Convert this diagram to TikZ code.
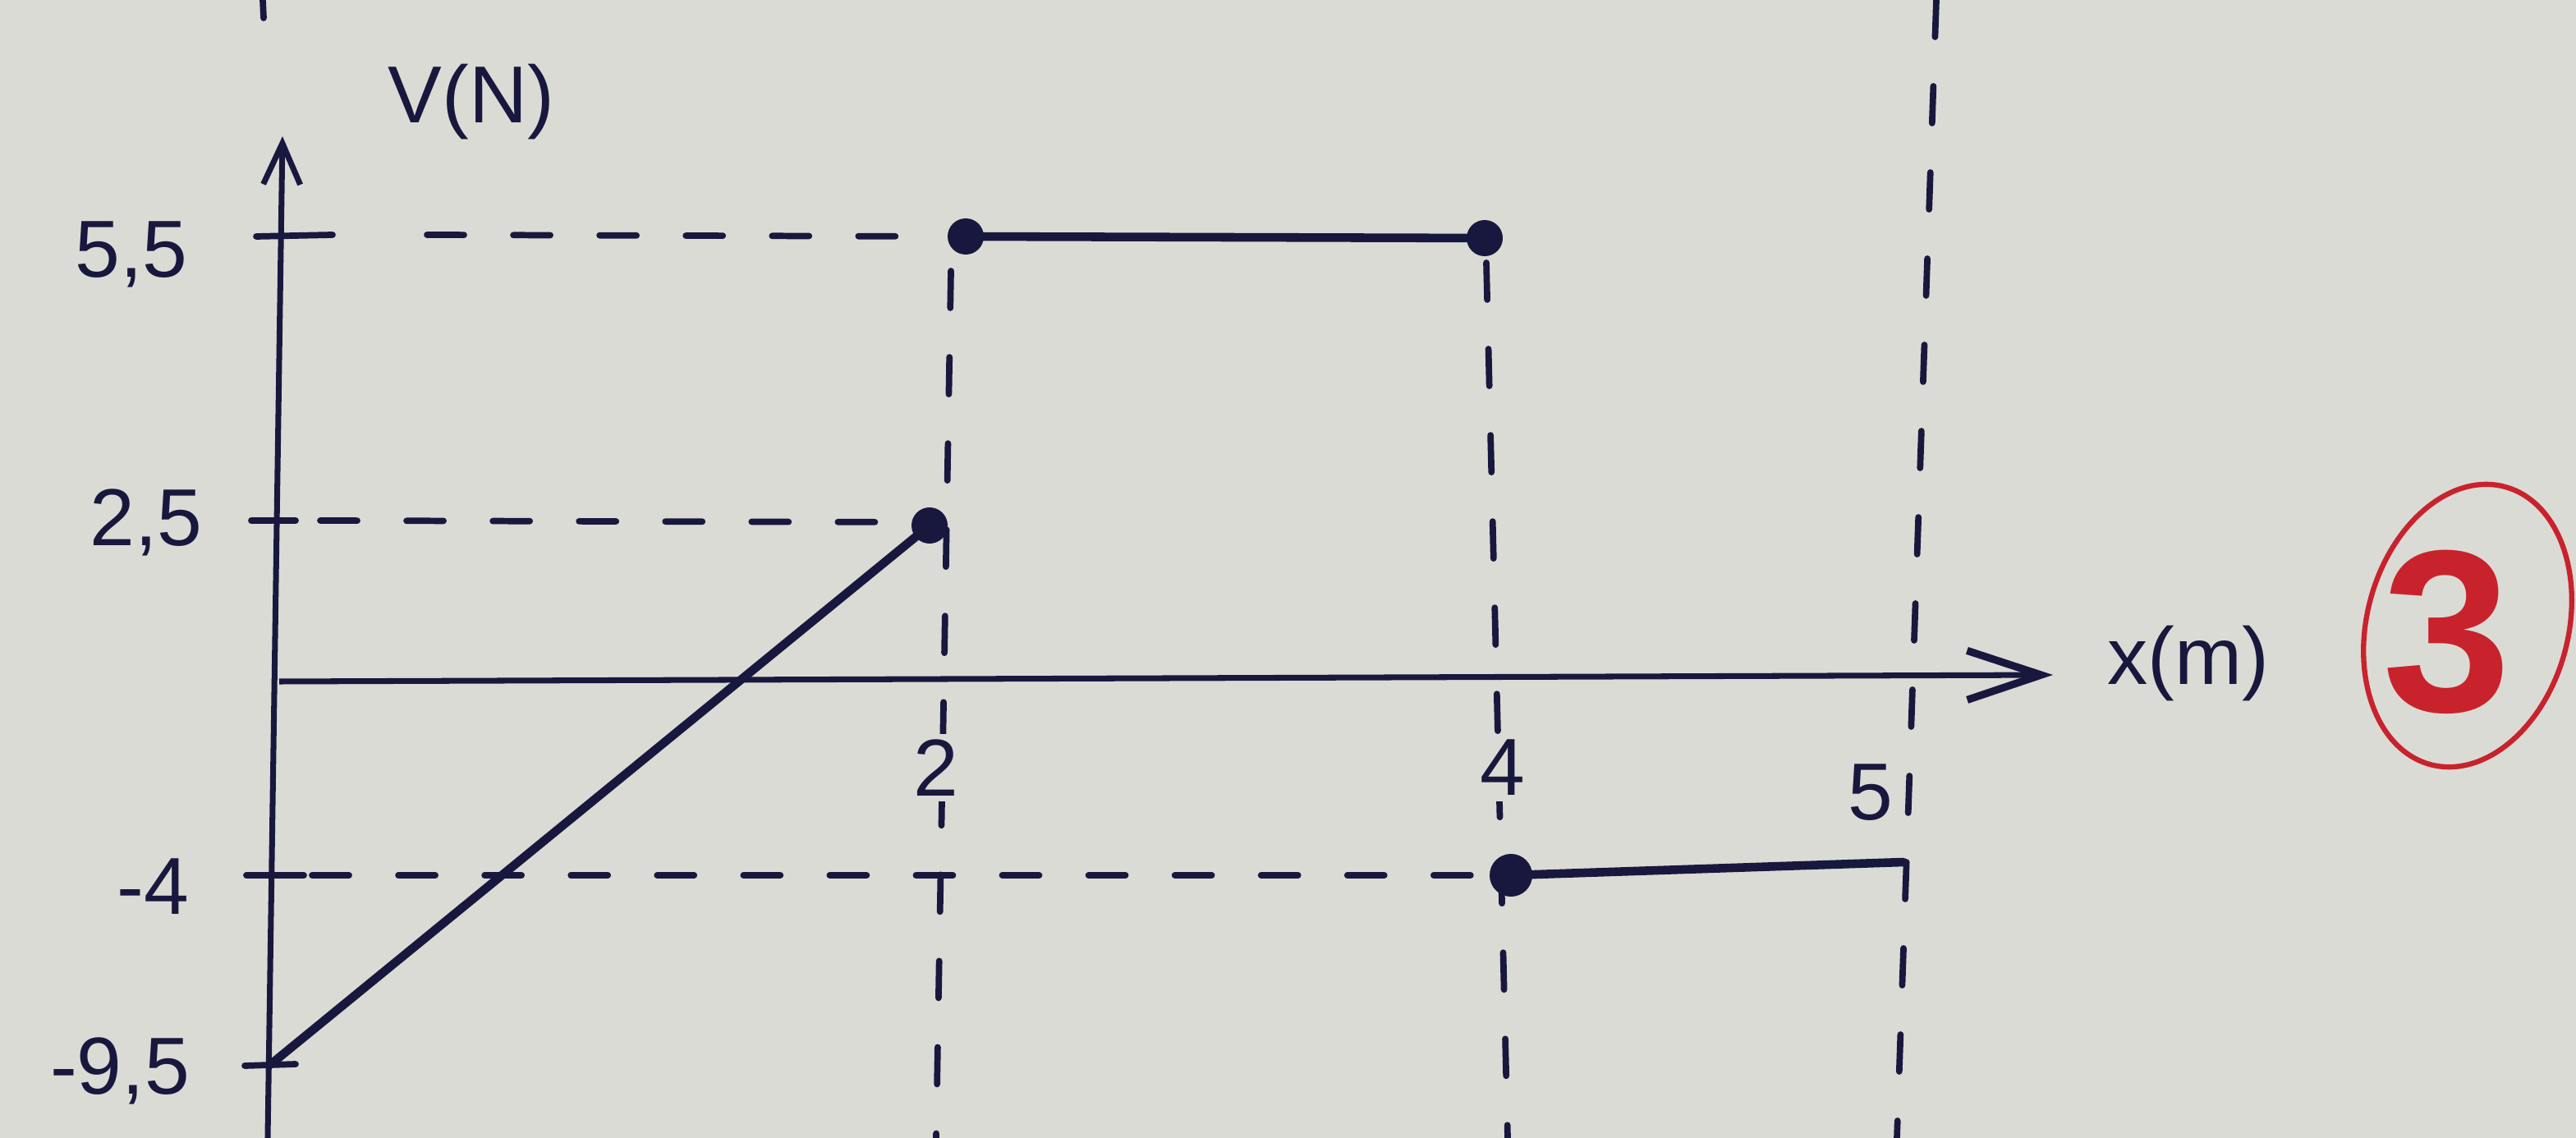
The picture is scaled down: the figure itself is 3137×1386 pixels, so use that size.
\documentclass[tikz,border=0pt]{standalone}
\usepackage{fontspec}
\setmainfont{Liberation Sans}
\usetikzlibrary{arrows.meta,shapes.geometric}
\definecolor{paper}{RGB}{219,219,213}
\definecolor{ink}{RGB}{24,24,62}
\definecolor{redink}{RGB}{200,35,45}
\begin{document}
\begin{tikzpicture}[x=0.01cm,y=-0.01cm,
  axisline/.style={ink, line width=2pt},
  graphline/.style={ink, line width=3pt, line cap=round},
  tickline/.style={ink, line width=2.2pt, line cap=round},
  guide/.style={ink, line width=2.2pt, line cap=round, dash pattern=on 0.45cm off 0.6cm},
  lbl/.style={ink, font=\fontsize{28}{32}\selectfont, inner sep=0pt},
  dotpt/.style={circle, fill=ink, inner sep=0pt, minimum size=0.44cm}]
\fill[paper] (0,0) rectangle (3137,1386);
\useasboundingbox (0,0) rectangle (3137,1386);

% coordinates
\coordinate (O) at (340,830);
\coordinate (ytop) at (344,166);
\coordinate (ybot) at (326,1386);
\coordinate (xend) at (2500,822);
\coordinate (mk1) at (320,0);
\coordinate (mk2) at (321,22);

% axes
\draw[axisline, -{Straight Barb[length=0.5cm,width=0.45cm,line width=2pt]}] (ybot) -- (ytop);
\draw[axisline, -{Straight Barb[length=0.9cm,width=0.6cm,line width=2.6pt]}] (O) -- (xend);
\draw[tickline] (mk1) -- (mk2);

% y ticks
\coordinate (t55a) at (312,288); \coordinate (t55b) at (405,286);
\coordinate (t25a) at (306,634); \coordinate (t25b) at (360,634);
\coordinate (t4a) at (300,1066); \coordinate (t4b) at (370,1066);
\coordinate (t95a) at (298,1298); \coordinate (t95b) at (360,1296);
\draw[tickline] (t55a) -- (t55b);
\draw[tickline] (t25a) -- (t25b);
\draw[tickline] (t4a) -- (t4b);
\draw[tickline] (t95a) -- (t95b);

% guide lines
\coordinate (h55a) at (520,286); \coordinate (h55b) at (1150,288);
\coordinate (h25a) at (390,634); \coordinate (h25b) at (1110,636);
\coordinate (h4a) at (380,1066); \coordinate (h4b) at (1815,1066);
\coordinate (v2a) at (1158,330); \coordinate (v2b) at (1140,1386);
\coordinate (v4a) at (1810,320); \coordinate (v4b) at (1836,1386);
\coordinate (v5a) at (2358,0); \coordinate (v5b) at (2310,1386);
\draw[guide] (h55a) -- (h55b);
\draw[guide] (h25a) -- (h25b);
\draw[guide] (h4a) -- (h4b);
\draw[guide] (v2a) -- (v2b);
\draw[guide] (v4a) -- (v4b);
\draw[guide] (v5a) -- (v5b);

% graph
\coordinate (p0) at (330,1296);
\node[dotpt] (d1) at (1132,640) {};
\node[dotpt] (d2) at (1176,288) {};
\node[dotpt] (d3) at (1808,290) {};
\node[dotpt, minimum size=0.52cm] (d4) at (1840,1066) {};
\coordinate (p5) at (2318,1050);
\draw[graphline] (p0) -- (d1.center);
\draw[graphline] (d2.center) -- (d3.center);
\draw[graphline] (d4.center) -- (p5);

% labels
\node[lbl] (vlab) at (574,124) {V(N)};
\node[lbl] (xlab) at (2665,808) {x(m)};
\node[lbl] (l55) at (160,310) {5,5};
\node[lbl] (l25) at (178,636) {2,5};
\node[lbl] (l4) at (186,1080) {-4};
\node[lbl] (l95) at (146,1304) {-9,5};
\node[lbl, fill=paper, inner sep=2pt] (l2) at (1140,935) {2};
\node[lbl, fill=paper, inner sep=2pt] (l4x) at (1830,935) {4};
\node[lbl] (l5x) at (2278,965) {5};

% red mark
\node[draw=redink, line width=1.8pt, ellipse, minimum width=2.45cm, minimum height=3.5cm, rotate=-15] (circ) at (3005,762) {};
\node[redink, font=\fontsize{80}{90}\selectfont\bfseries] (mark) at (2980,770) {3};
\end{tikzpicture}
\end{document}
